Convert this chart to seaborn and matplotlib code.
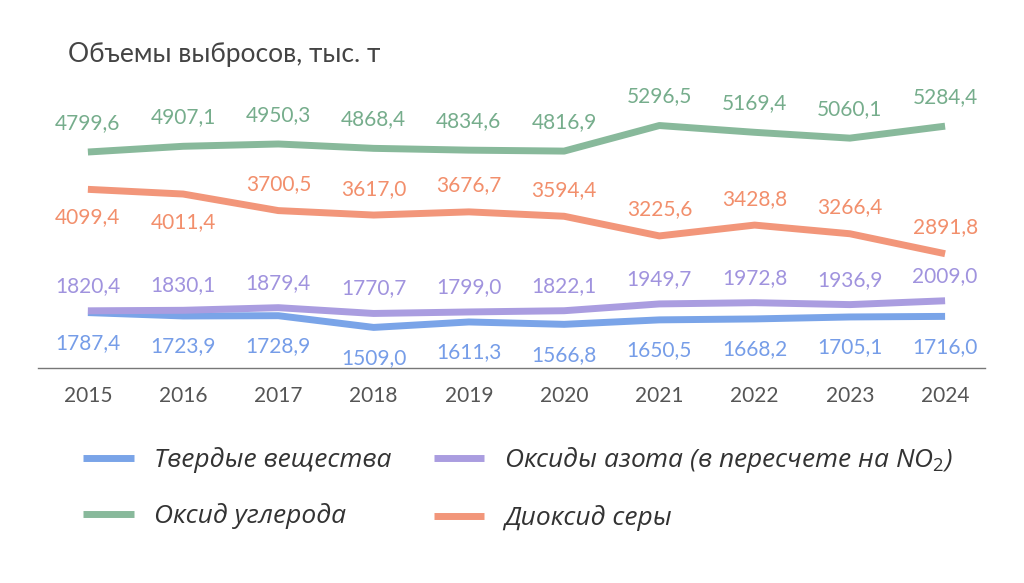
import numpy as np
import pandas as pd
import matplotlib.pyplot as plt
import seaborn as sns

years = [2015, 2016, 2017, 2018, 2019, 2020, 2021, 2022, 2023, 2024]
solid = [1787.4, 1723.9, 1728.9, 1509.0, 1611.3, 1566.8, 1650.5, 1668.2, 1705.1, 1716.0]
nox = [1820.4, 1830.1, 1879.4, 1770.7, 1799.0, 1822.1, 1949.7, 1972.8, 1936.9, 2009.0]
co = [4799.6, 4907.1, 4950.3, 4868.4, 4834.6, 4816.9, 5296.5, 5169.4, 5060.1, 5284.4]
so2 = [4099.4, 4011.4, 3700.5, 3617.0, 3676.7, 3594.4, 3225.6, 3428.8, 3266.4, 2891.8]

names = ["Твердые вещества", "Оксид углерода", "Оксиды азота (в пересчете на NO$_2$)", "Диоксид серы"]
colors = ["#7aa4e8", "#88b99b", "#aa9de0", "#f2967a"]

sns.set_style("white")
plt.rcParams['font.family'] = ['Lato', 'DejaVu Sans']
plt.rcParams['mathtext.fontset'] = 'custom'
plt.rcParams['mathtext.it'] = 'Open Sans:italic'
plt.rcParams['mathtext.rm'] = 'Open Sans'

df = pd.DataFrame({
    "year": years * 4,
    "value": solid + co + nox + so2,
    "series": [names[0]] * 10 + [names[1]] * 10 + [names[2]] * 10 + [names[3]] * 10,
})

fig = plt.figure(figsize=(10.24, 5.83), dpi=100)
ax = fig.add_axes([0.037, 0.369, 0.925, 0.480])
sns.lineplot(data=df, x="year", y="value", hue="series", hue_order=names,
             palette=colors, linewidth=5, ax=ax, legend=True)
for ln in ax.get_lines():
    ln.set_solid_capstyle("butt")
    ln.set_solid_joinstyle("round")

ax.set_xlim(2014.475, 2024.42)
ax.set_ylim(750, 6000)
ax.set_xticks(years)
ax.set_xticklabels([str(y) for y in years], fontsize=15, color="#555555")
ax.tick_params(axis="x", length=0, pad=13)
ax.set_yticks([])
ax.set_xlabel("")
ax.set_ylabel("")
for s in ["top", "right", "left"]:
    ax.spines[s].set_visible(False)
ax.spines["bottom"].set_color("#777777")
ax.spines["bottom"].set_linewidth(1)

def fmt(v):
    return f"{v:.1f}".replace(".", ",")

# labels: green above, purple above, blue below, orange below for first two then above
fs = 15
for i, y in enumerate(years):
    ax.annotate(fmt(co[i]), (y, co[i]), xytext=(0, 21), textcoords="offset points",
                ha="center", va="center", fontsize=fs, color="#76ad8c")
    ax.annotate(fmt(nox[i]), (y, nox[i]), xytext=(0, 18), textcoords="offset points",
                ha="center", va="center", fontsize=fs, color="#a093de")
    ax.annotate(fmt(solid[i]), (y, solid[i]), xytext=(0, -22), textcoords="offset points",
                ha="center", va="center", fontsize=fs, color="#769de8")
    off = -20 if i < 2 else 19
    ax.annotate(fmt(so2[i]), (y, so2[i]), xytext=(0, off), textcoords="offset points",
                ha="center", va="center", fontsize=fs, color="#f28f6c")

handles, labels = ax.get_legend_handles_labels()
ax.get_legend().remove()
leg = fig.legend(handles, labels, loc="center", bbox_to_anchor=(0.506, 0.163), ncol=2,
                 frameon=False, handlelength=1.9, handletextpad=0.76, columnspacing=1.63,
                 labelspacing=1.15,
                 prop={"family": "Open Sans", "style": "italic", "weight": "normal", "size": 19})
for t in leg.get_texts():
    t.set_color("#333333")
for h in leg.get_lines():
    h.set_linewidth(5)
    h.set_solid_capstyle("butt")

fig.text(0.066, 0.906, "Объемы выбросов, тыс. т", fontsize=19, color="#444444", va="center")

fig.savefig("out.png", dpi=100)
